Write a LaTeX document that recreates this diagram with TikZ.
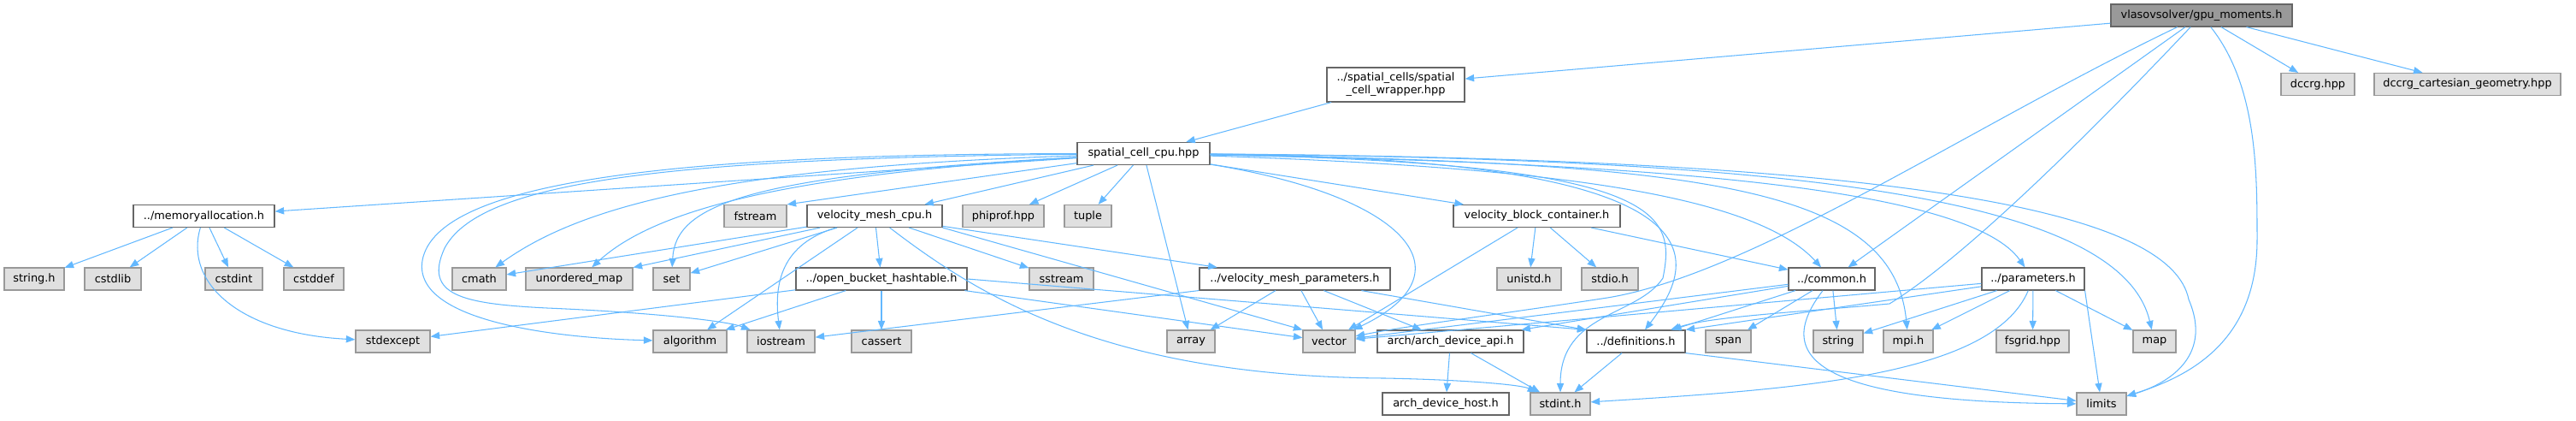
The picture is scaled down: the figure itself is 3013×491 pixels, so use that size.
\documentclass[tikz,border=0pt]{standalone}
\usepackage{fontspec}
\setmainfont{DejaVu Sans}
\usetikzlibrary{arrows.meta}
\definecolor{edgeblue}{HTML}{63B8FF}
\definecolor{sysfill}{HTML}{E0E0E0}
\definecolor{sysline}{HTML}{999999}
\definecolor{hdrline}{HTML}{666666}
\def\px{0.03cm}
\tikzstyle{hdr}=[rectangle, draw=hdrline, fill=white, line width=1pt, inner sep=0pt,
                 minimum height=26*\px, font=\fontsize{11}{13}\selectfont]
\tikzstyle{sys}=[hdr, draw=sysline, fill=sysfill]
\tikzstyle{topfile}=[hdr, draw=hdrline, fill=sysline]
\tikzstyle{inc}=[-{Triangle[length=9pt,width=7pt]}, draw=edgeblue, line width=0.9pt]

\begin{document}
\begin{tikzpicture}[x=\px, y=-\px]
  \useasboundingbox (0,0) rectangle (3013,491);

  \node[topfile, minimum width=212*\px] (gpu) at (2575,18) {vlasovsolver/gpu\_moments.h};
  \node[hdr, minimum width=161*\px, minimum height=40*\px, align=center] (wrap) at (1632.5,99)
       {../spatial\_cells/spatial\\\_cell\_wrapper.hpp};
  \node[hdr, minimum width=155*\px] (scc) at (1337.5,179.5) {spatial\_cell\_cpu.hpp};

  \node[hdr, minimum width=165*\px] (mem) at (238.5,252.5) {../memoryallocation.h};
  \node[hdr, minimum width=158*\px] (vmc) at (1023,252.5) {velocity\_mesh\_cpu.h};
  \node[hdr, minimum width=195*\px] (vbc) at (1797.5,252.5) {velocity\_block\_container.h};
  \node[hdr, minimum width=200*\px] (obh) at (1031,326) {../open\_bucket\_hashtable.h};
  \node[hdr, minimum width=223*\px] (vmp) at (1514.5,326) {../velocity\_mesh\_parameters.h};
  \node[hdr, minimum width=101*\px] (common) at (2142.5,326) {../common.h};
  \node[hdr, minimum width=120*\px] (params) at (2378,326) {../parameters.h};
  \node[hdr, minimum width=171*\px] (ada) at (1696.5,399) {arch/arch\_device\_api.h};
  \node[hdr, minimum width=115*\px] (defs) at (1913.5,399) {../definitions.h};
  \node[hdr, minimum width=148*\px] (adh) at (1691,472) {arch\_device\_host.h};

  \foreach \n/\x/\w/\t in {dccrg/2711/86/dccrg.hpp, cart/2886/218/{dccrg\_cartesian\_geometry.hpp}}
    \node[sys, minimum width=\w*\px] (\n) at (\x,98.5) {\t};
  \foreach \n/\x/\w/\t in {fstream/883.5/73/fstream, phiprof/1173.5/95/phiprof.hpp, tuple/1272.5/55/tuple}
    \node[sys, minimum width=\w*\px] (\n) at (\x,252.5) {\t};
  \foreach \n/\x/\w/\t in {stringh/40/70/string.h, cstdlib/132/66/cstdlib, cstdint/273.5/67/cstdint,
      cstddef/367/70/cstddef, cmath/560.5/63/cmath, umap/677.5/125/{unordered\_map}, set/785.5/43/set,
      sstream/1241.5/75/sstream, unistd/1788.5/75/unistd.h, stdio/1883/66/stdio.h}
    \node[sys, minimum width=\w*\px] (\n) at (\x,326) {\t};
  \foreach \n/\x/\w/\t in {stdexcept/459.5/87/stdexcept, algorithm/807/86/algorithm, iostream/913.5/79/iostream,
      cassert/1031/70/cassert, array/1393/56/array, vector/1554.5/61/vector, span/2021.5/53/span,
      string/2150/58/string, mpi/2232/58/mpi.h, fsgrid/2377.5/85/fsgrid.hpp, map/2520/50/map}
    \node[sys, minimum width=\w*\px] (\n) at (\x,399) {\t};
  \foreach \n/\x/\w/\t in {stdint/1825/70/stdint.h, limits/2458/58/limits}
    \node[sys, minimum width=\w*\px] (\n) at (\x,472) {\t};

  \foreach \a/\b in {gpu/wrap, gpu/dccrg, gpu/cart, gpu/common, wrap/scc,
      scc/mem, scc/fstream.north east, scc/vmc, scc/phiprof, scc/tuple, scc/array, scc/vbc,
      mem/stringh, mem/cstdlib, mem/cstdint, mem/cstddef,
      vmc/cmath, vmc/umap, vmc/set, vmc/algorithm, vmc/obh, vmc/sstream, vmc/vmp,
      vmc.south east/vector.north west,
      obh/stdexcept, obh/algorithm, obh/cassert, obh/vector, obh.east/defs.north west,
      vmp/iostream, vmp/array, vmp/vector, vmp/ada, vmp/defs.north west,
      vbc/vector, vbc/unistd, vbc/stdio, vbc/common,
      common/vector, common/ada, common/defs, common/span, common/string,
      params/defs.north east, params/vector, params/string, params/mpi, params/fsgrid, params/map,
      params.south east/limits, defs.south east/limits, defs/stdint, ada/adh, ada/stdint}
    \draw[inc] (\a) -- (\b);

  \draw[inc] (scc) .. controls (850,195) and (680,240) .. (cmath);
  \draw[inc] (scc) .. controls (900,205) and (760,250) .. (umap);
  \draw[inc] (scc) .. controls (870,205) and (790,240) .. (set);
  \draw[inc] (scc) .. controls (800,180) and (520,210) .. (495,300)
                   .. controls (475,375) and (650,395) .. (algorithm);
  \draw[inc] (scc) .. controls (760,185) and (560,215) .. (520,290)
                   .. controls (495,345) and (540,355) .. (640,360)
                   .. controls (760,365) and (850,375) .. (iostream);
  \draw[inc] (scc) .. controls (1650,230) and (1720,320) .. (vector);
  \draw[inc] (scc) .. controls (2020,185) and (1990,300) .. (defs);
  \draw[inc] (scc) .. controls (1950,190) and (1960,250) .. (1945,325)
                   .. controls (1915,370) and (1825,365) .. (stdint);
  \draw[inc] (scc) .. controls (1800,195) and (2050,225) .. (common);
  \draw[inc] (scc) .. controls (1900,190) and (2300,215) .. (params);
  \draw[inc] (scc) .. controls (2000,190) and (2215,220) .. (mpi);
  \draw[inc] (scc) .. controls (2100,185) and (2480,230) .. (map);
  \draw[inc] (scc) .. controls (2250,185) and (2540,250) .. (2560,350)
                   .. controls (2590,420) and (2530,450) .. (limits);

  \draw[inc] (gpu) .. controls (2640,100) and (2640,200) .. (2640,280)
                   .. controls (2640,400) and (2560,440) .. (limits);
  \draw[inc] (gpu) .. controls (2300,150) and (2050,320) .. (1880,348)
                   .. controls (1750,368) and (1650,380) .. (vector);
  \draw[inc] (gpu) .. controls (2450,150) and (2300,300) .. (2210,355)
                   .. controls (2100,365) and (2000,370) .. (defs);

  \draw[inc] (mem) .. controls (215,330) and (280,390) .. (stdexcept);
  \draw[inc] (vmc) .. controls (1150,350) and (1300,440) .. (1620,442)
                   .. controls (1720,444) and (1780,450) .. (stdint);
  \draw[inc] (vmc) .. controls (915,285) and (905,330) .. (iostream);
  \draw[inc] (params) .. controls (2330,440) and (2100,455) .. (stdint);
  \draw[inc] (common) .. controls (2070,420) and (2130,470) .. (limits);

\end{tikzpicture}
\end{document}
